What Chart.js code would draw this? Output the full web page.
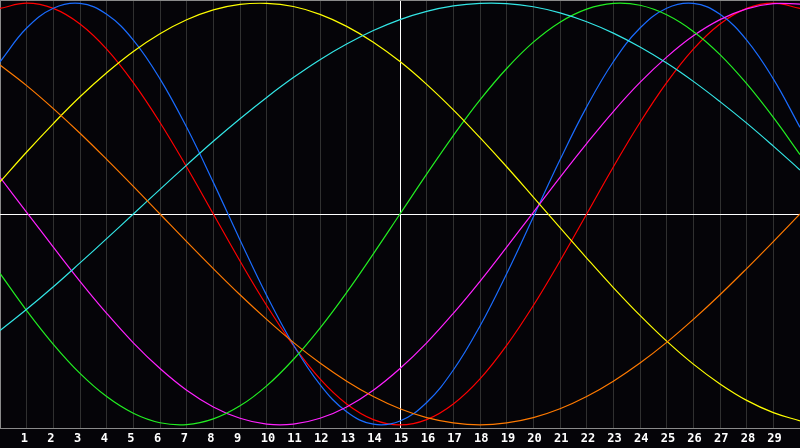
<!DOCTYPE html>
<html>
<head>
<meta charset="utf-8">
<script src="https://cdn.jsdelivr.net/npm/chart.js@4.4.1/dist/chart.umd.min.js"></script>
<style>
  html, body { margin: 0; padding: 0; background: #050408; }
  #wrap { width: 800px; height: 448px; }
</style>
</head>
<body>
<div id="wrap"><canvas id="c" width="800" height="448"></canvas></div>
<script>
// X positions of the sampled points
const xs = [0,1,2,3,4,5,6,7,8,9,10,11,12,13,14,15,16,17,18,19,20,21,22,23,24,25,26,27,28,29,30];
// Tick labels shown under the plot
const tickLabels = ['1','2','3','4','5','6','7','8','9','10','11','12','13','14','15','16','17','18','19','20','21','22','23','24','25','26','27','28','29'];

// Series values (one value per x position)
const redSeries = [0.975,1.000,0.975,0.901,0.782,0.623,0.434,0.223,0.000,-0.223,-0.434,-0.623,-0.782,-0.901,-0.975,-1.000,-0.975,-0.901,-0.782,-0.623,-0.434,-0.223,0.000,0.223,0.434,0.623,0.782,0.901,0.975,1.000,0.975];
const blueSeries = [0.722,0.882,0.976,0.999,0.947,0.825,0.641,0.411,0.150,-0.123,-0.386,-0.620,-0.809,-0.938,-0.997,-0.982,-0.894,-0.740,-0.531,-0.283,-0.014,0.257,0.508,0.722,0.882,0.976,0.999,0.947,0.825,0.641,0.411];
const yellowSeries = [0.152,0.294,0.429,0.556,0.670,0.771,0.855,0.921,0.968,0.994,0.999,0.984,0.947,0.890,0.815,0.723,0.615,0.494,0.362,0.224,0.080,-0.065,-0.209,-0.349,-0.481,-0.603,-0.712,-0.806,-0.884,-0.942,-0.981];
const cyanSeries = [-0.553,-0.452,-0.345,-0.232,-0.117,0.000,0.117,0.232,0.345,0.452,0.553,0.647,0.732,0.806,0.870,0.922,0.961,0.987,0.999,0.998,0.983,0.954,0.912,0.858,0.792,0.716,0.629,0.533,0.431,0.322,0.209];
const greenSeries = [-0.282,-0.458,-0.618,-0.756,-0.866,-0.945,-0.990,-0.999,-0.972,-0.910,-0.815,-0.690,-0.541,-0.372,-0.189,0.000,0.189,0.372,0.541,0.690,0.815,0.910,0.972,0.999,0.990,0.945,0.866,0.756,0.618,0.458,0.282];
const magentaSeries = [0.174,0.008,-0.157,-0.319,-0.471,-0.611,-0.733,-0.836,-0.915,-0.969,-0.997,-0.997,-0.969,-0.915,-0.836,-0.733,-0.611,-0.471,-0.319,-0.157,0.008,0.174,0.334,0.486,0.624,0.744,0.845,0.922,0.973,0.998,0.995];
const orangeSeries = [0.707,0.609,0.500,0.383,0.259,0.131,0.000,-0.131,-0.259,-0.383,-0.500,-0.609,-0.707,-0.793,-0.866,-0.924,-0.966,-0.991,-1.000,-0.991,-0.966,-0.924,-0.866,-0.793,-0.707,-0.609,-0.500,-0.383,-0.259,-0.131,0.000];

const seriesList = [
  { name: 'orange', values: orangeSeries, color: '#ff7a00' },
  { name: 'cyan', values: cyanSeries, color: '#33e6e6' },
  { name: 'yellow', values: yellowSeries, color: '#ffff00' },
  { name: 'green', values: greenSeries, color: '#22ee22' },
  { name: 'magenta', values: magentaSeries, color: '#ff22ff' },
  { name: 'blue', values: blueSeries, color: '#1a6cff' },
  { name: 'red', values: redSeries, color: '#ff0000' }
];

const datasets = seriesList.map(s => ({
  label: s.name,
  data: xs.map((x, i) => ({ x: x, y: s.values[i] })),
  borderColor: s.color,
  backgroundColor: s.color,
  borderWidth: 1.2,
  pointRadius: 0,
  fill: false,
  tension: 0.4
}));

const bgPlugin = {
  id: 'bg',
  beforeDraw(chart) {
    const ctx = chart.ctx;
    ctx.save();
    ctx.fillStyle = '#050408';
    ctx.fillRect(0, 0, chart.width, chart.height);
    ctx.restore();
  }
};

new Chart(document.getElementById('c'), {
  type: 'line',
  data: { datasets: datasets },
  plugins: [bgPlugin],
  options: {
    responsive: false,
    devicePixelRatio: 1,
    animation: false,
    layout: { padding: 0 },
    plugins: { legend: { display: false }, tooltip: { enabled: false } },
    scales: {
      x: {
        type: 'linear',
        min: 0,
        max: 30,
        afterFit(scale) {
          scale.height = 20;
          scale.paddingLeft = 0;
          scale.paddingRight = 0;
        },
        border: { display: true, color: '#8a8a8a', width: 1 },
        grid: {
          drawTicks: false,
          lineWidth: 1,
          color(ctx) {
            const v = ctx.tick && ctx.tick.value;
            if (v === 15) return '#ffffff';
            if (v === 0) return '#8a8a8a';
            return '#303030';
          }
        },
        ticks: {
          stepSize: 1,
          autoSkip: false,
          maxRotation: 0,
          align: 'start',
          labelOffset: -6,
          padding: 4,
          color: '#ffffff',
          font: { family: 'DejaVu Sans Mono', size: 12, weight: 'bold' },
          callback(value) {
            const idx = tickLabels.indexOf(String(value));
            return idx >= 0 ? tickLabels[idx] : '';
          }
        }
      },
      y: {
        type: 'linear',
        min: -1.015,
        max: 1.015,
        afterFit(scale) {
          scale.width = 0;
          scale.paddingTop = 0;
          scale.paddingBottom = 0;
        },
        border: { display: false },
        grid: {
          drawTicks: false,
          lineWidth: 1,
          color(ctx) {
            const v = ctx.tick && ctx.tick.value;
            if (v === 0) return '#ffffff';
            if (v === 1.015) return '#8a8a8a';
            return 'rgba(0,0,0,0)';
          }
        },
        ticks: { display: false, stepSize: 1 }
      }
    }
  }
});
</script>
</body>
</html>
